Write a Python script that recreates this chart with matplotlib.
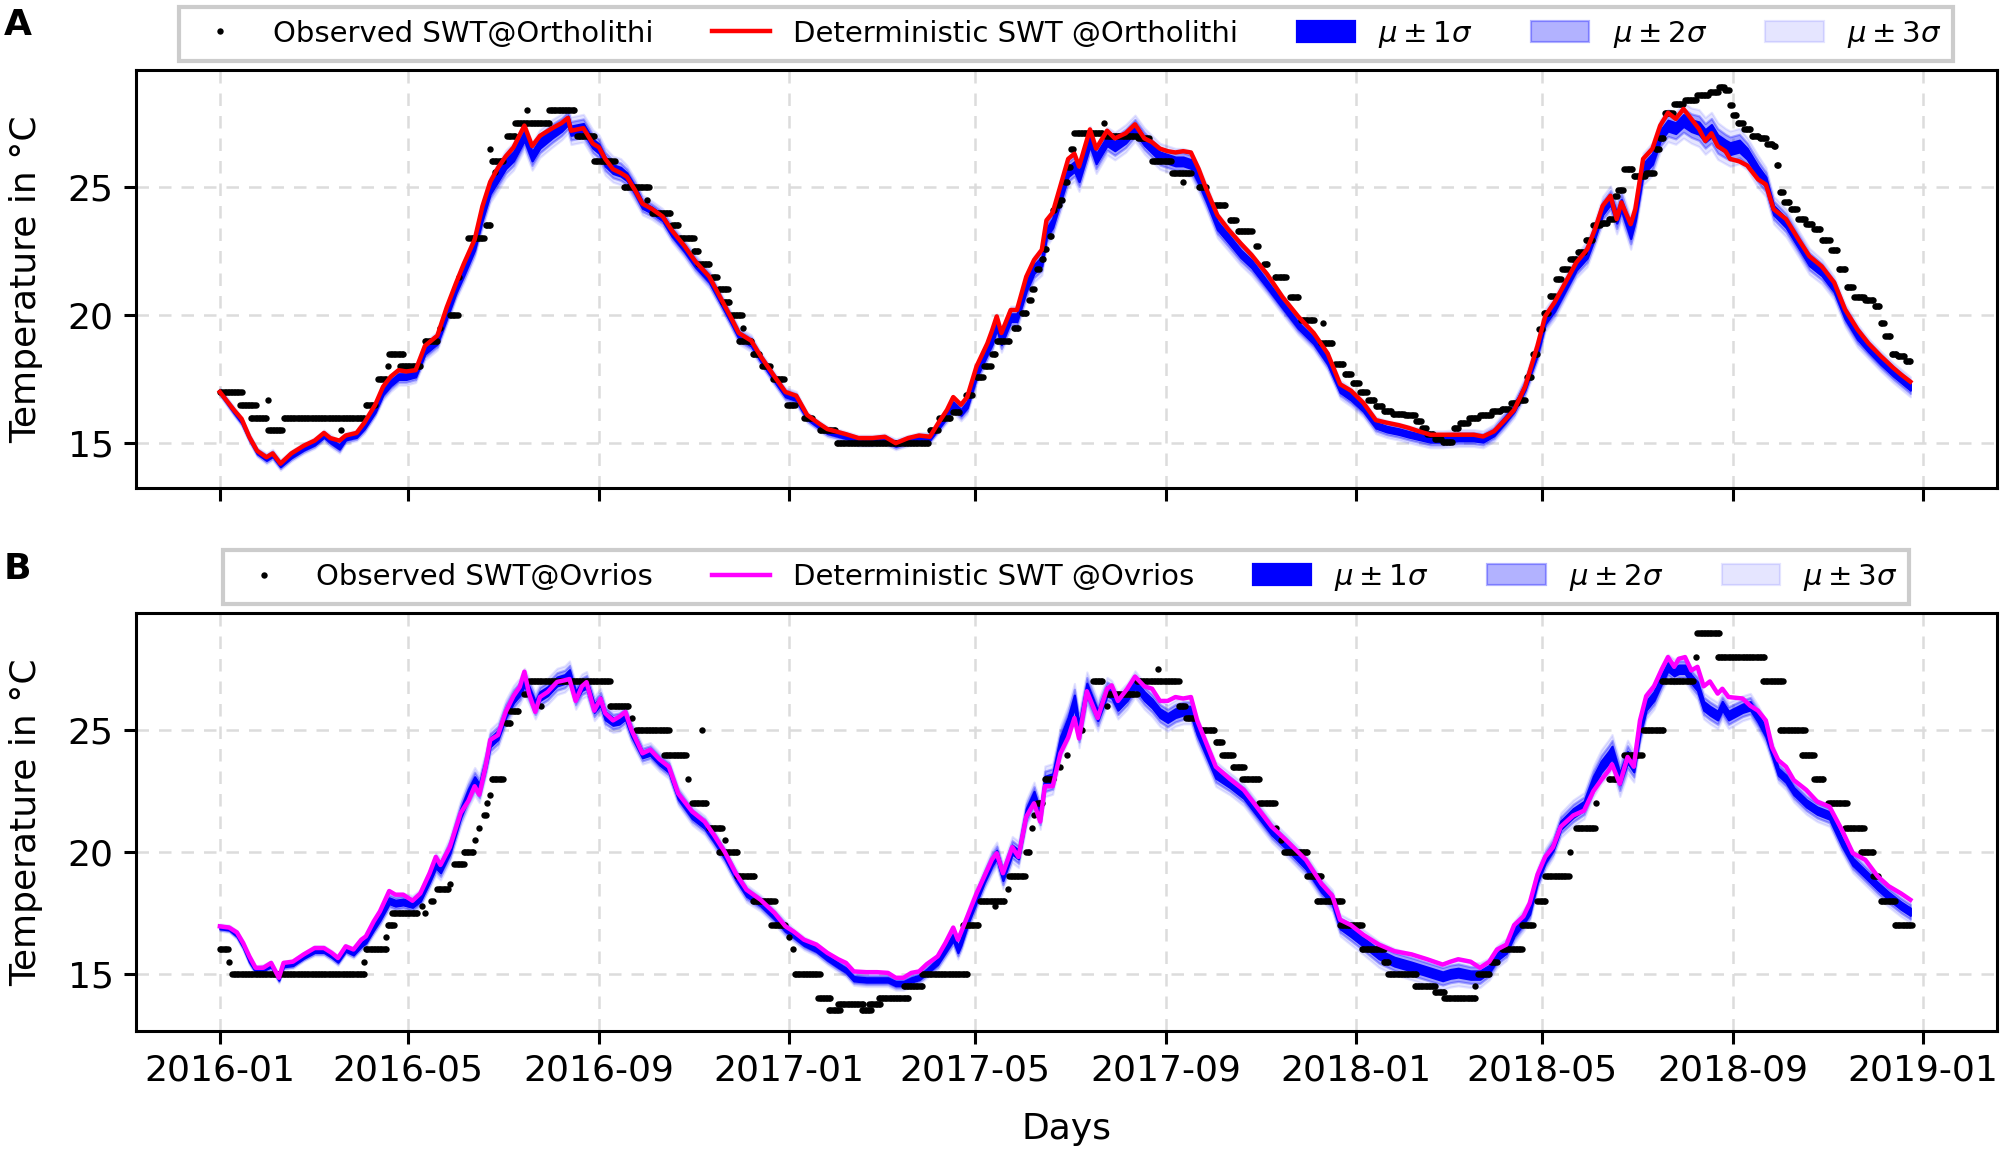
import numpy as np
import matplotlib
matplotlib.use("Agg")
import matplotlib.pyplot as plt
import matplotlib.dates as mdates

# ---------------- data (day offsets from 2016-01-01) ----------------
a_day = [0, 9, 14, 19, 24, 30, 34, 39, 46, 54, 61, 67, 71, 77, 81, 88, 93, 100, 105, 110,
         115, 120, 126, 132, 140, 146, 152, 157, 164, 169, 174, 179, 184, 189, 196, 201, 206, 214, 220, 224,
         226, 234, 240, 244, 248, 253, 258, 262, 267, 272, 278, 285, 291, 299, 306, 315, 322, 329, 334, 342,
         348, 357, 364,
         371, 378, 386, 391, 403, 411, 420, 428, 435, 443, 450, 457, 462, 468, 472, 477, 481, 487, 494, 497,
         500, 503, 509, 513, 519, 524, 529, 532, 536, 541, 546, 550, 553, 560, 564, 571, 576, 583, 589, 595,
         600, 605, 610, 615, 620, 625, 630, 635, 642, 649, 657, 664, 674, 684, 694, 704, 713, 721, 728,
         736, 744, 751, 759, 765, 772, 779, 787, 797, 807, 813, 820, 827, 833, 840, 848, 853, 859, 866, 873,
         880, 885, 890, 895, 899, 902, 908, 911, 916, 922, 927, 932, 937, 942, 947, 952, 956, 960, 964, 969,
         972, 978, 983, 990, 995, 1000, 1008, 1016, 1023, 1031, 1039, 1046, 1054, 1061, 1069, 1077, 1082, 1088]
a_det = [17.0, 16.3, 15.95, 15.24, 14.7, 14.45, 14.6, 14.2, 14.6, 14.9, 15.1, 15.4, 15.2, 15.1, 15.3,
         15.4, 15.8, 16.5, 17.2, 17.6, 17.85, 17.8, 17.85, 18.8, 19.2, 20.3, 21.25, 22.0, 22.95, 24.25,
         25.2, 25.75, 26.2, 26.55, 27.4, 26.6, 27.0, 27.3, 27.5, 27.7, 27.2, 27.3, 26.7, 26.55, 26.1,
         25.7, 25.55, 25.4, 24.9, 24.35, 24.15, 23.85, 23.3, 22.7, 22.1, 21.5, 20.7, 19.9, 19.3, 19.0,
         18.4, 17.6, 17.0,
         16.85, 16.1, 15.75, 15.55, 15.35, 15.2, 15.2, 15.25, 15.0, 15.2, 15.3, 15.25, 15.75, 16.3, 16.8,
         16.5, 16.8, 18.0, 18.9, 19.4, 19.95, 19.3, 20.2, 20.2, 21.5, 22.15, 22.55, 23.7, 24.0, 25.05,
         26.1, 26.3, 25.8, 27.25, 26.5, 27.2, 26.9, 27.1, 27.45, 26.9, 26.75, 26.5, 26.4, 26.35, 26.4,
         26.35, 25.7, 24.9, 23.9, 23.35, 22.8, 22.35, 21.6, 20.7, 19.95, 19.3, 18.5, 17.3, 17.05,
         16.57, 15.9, 15.8, 15.7, 15.6, 15.46, 15.33, 15.33, 15.33, 15.33, 15.26, 15.46, 15.9, 16.3, 17.2,
         18.8, 19.96, 20.5, 21.27, 22.05, 22.57, 23.35, 24.27, 24.66, 23.75, 24.4, 23.55, 24.14, 26.1, 26.5,
         27.4, 27.9, 27.66, 28.05, 27.66, 27.27, 26.8, 27.1, 26.6, 26.4, 26.1, 26.0, 25.84, 25.3, 25.1,
         24.14, 23.75, 22.96, 22.3, 21.9, 21.27, 20.22, 19.44, 18.9, 18.4, 17.94, 17.68, 17.4]
a_mu = [17.0, 16.25, 15.85, 15.2, 14.65, 14.4, 14.55, 14.15, 14.5, 14.8, 15.0, 15.3, 15.1, 14.85, 15.2,
        15.3, 15.65, 16.3, 17.0, 17.35, 17.6, 17.6, 17.7, 18.6, 19.0, 20.0, 21.0, 21.7, 22.7, 23.9,
        24.9, 25.4, 25.9, 26.2, 27.0, 26.2, 26.7, 27.1, 27.35, 27.6, 27.2, 27.3, 26.7, 26.5, 26.0,
        25.7, 25.6, 25.4, 24.9, 24.3, 24.1, 23.8, 23.2, 22.6, 22.0, 21.4, 20.6, 19.8, 19.2, 18.9,
        18.3, 17.5, 16.9,
        16.75, 16.0, 15.65, 15.45, 15.25, 15.1, 15.1, 15.15, 14.95, 15.1, 15.2, 15.2, 15.6, 16.1, 16.5,
        16.2, 16.5, 17.7, 18.6, 19.0, 19.6, 19.0, 19.9, 19.9, 21.1, 21.8, 22.1, 23.2, 23.6, 24.6,
        25.6, 25.8, 25.4, 26.8, 26.1, 26.8, 26.6, 26.9, 27.3, 26.8, 26.5, 26.2, 26.1, 26.0, 26.0,
        25.9, 25.3, 24.6, 23.5, 23.0, 22.4, 22.0, 21.2, 20.4, 19.6, 19.0, 18.2, 17.1, 16.8,
        16.35, 15.7, 15.55, 15.45, 15.35, 15.25, 15.15, 15.15, 15.2, 15.2, 15.15, 15.4, 15.9, 16.35, 17.2,
        18.6, 19.8, 20.3, 21.1, 21.9, 22.4, 23.2, 24.1, 24.5, 23.8, 24.3, 23.2, 23.9, 25.7, 26.1,
        27.0, 27.4, 27.3, 27.6, 27.4, 27.3, 27.0, 27.2, 26.8, 26.6, 26.5, 26.6, 26.3, 25.6, 25.2,
        24.1, 23.6, 22.8, 22.1, 21.7, 21.05, 20.0, 19.2, 18.7, 18.2, 17.75, 17.5, 17.2]
a_sd = [0.05, 0.06, 0.06, 0.06, 0.06, 0.07, 0.07, 0.07, 0.07, 0.07, 0.07, 0.07, 0.08, 0.08, 0.07,
        0.07, 0.09, 0.09, 0.11, 0.11, 0.11, 0.11, 0.11, 0.12, 0.12, 0.13, 0.13, 0.15, 0.15, 0.17,
        0.17, 0.18, 0.18, 0.18, 0.18, 0.18, 0.18, 0.18, 0.17, 0.17, 0.18, 0.18, 0.18, 0.18, 0.18,
        0.17, 0.17, 0.15, 0.15, 0.13, 0.12, 0.12, 0.12, 0.12, 0.12, 0.12, 0.11, 0.11, 0.11, 0.11,
        0.09, 0.09, 0.09,
        0.09, 0.07, 0.07, 0.07, 0.07, 0.07, 0.07, 0.07, 0.07, 0.07, 0.07, 0.07, 0.08, 0.1, 0.11,
        0.11, 0.12, 0.13, 0.13, 0.15, 0.15, 0.15, 0.15, 0.15, 0.17, 0.17, 0.18, 0.18, 0.18, 0.19,
        0.19, 0.19, 0.19, 0.19, 0.19, 0.18, 0.18, 0.18, 0.17, 0.17, 0.17, 0.17, 0.17, 0.17, 0.17,
        0.17, 0.17, 0.17, 0.16, 0.16, 0.15, 0.15, 0.13, 0.13, 0.12, 0.12, 0.12, 0.12, 0.12,
        0.11, 0.11, 0.11, 0.11, 0.11, 0.11, 0.11, 0.11, 0.11, 0.11, 0.11, 0.11, 0.12, 0.12, 0.13,
        0.15, 0.15, 0.15, 0.15, 0.15, 0.17, 0.17, 0.18, 0.18, 0.21, 0.21, 0.21, 0.21, 0.21, 0.21,
        0.21, 0.21, 0.21, 0.23, 0.23, 0.24, 0.24, 0.24, 0.24, 0.23, 0.23, 0.23, 0.21, 0.21, 0.19,
        0.18, 0.18, 0.17, 0.17, 0.16, 0.15, 0.15, 0.15, 0.13, 0.13, 0.13, 0.13, 0.13]

# observed runs at Ortholithi: (first day, last day, value)
a_obs_runs = [
    (0, 14, 17.0), (13, 23, 16.5), (20, 30, 16.0), (31, 31, 16.7), (31, 40, 15.5), (41, 93, 16.0),
    (78, 78, 15.5), (94, 100, 16.5), (102, 107, 17.5), (108, 108, 18.0), (109, 118, 18.5),
    (116, 129, 18.0), (132, 140, 19.0), (142, 142, 19.5), (148, 153, 20.0), (154, 154, 21.5),
    (160, 170, 23.0), (171, 174, 23.5), (174, 174, 26.5), (177, 177, 25.6), (175, 182, 26.0),
    (185, 190, 27.0), (190, 212, 27.5), (198, 198, 28.0), (212, 228, 28.0), (230, 241, 27.0),
    (241, 254, 26.0), (260, 276, 25.0), (275, 275, 24.5), (278, 290, 24.0), (291, 295, 23.5),
    (296, 305, 23.0), (305, 308, 22.5), (308, 315, 22.0), (317, 320, 21.5), (321, 327, 21.0),
    (324, 328, 20.5), (329, 336, 20.0), (337, 337, 19.5), (334, 342, 19.0), (343, 347, 18.5),
    (349, 354, 18.0), (356, 363, 17.5), (365, 370, 16.5),
    (376, 381, 16.0), (386, 396, 15.5), (397, 456, 15.0), (457, 462, 15.5), (463, 470, 16.0),
    (472, 476, 16.2), (480, 484, 16.9), (487, 491, 17.6), (492, 496, 18.0), (497, 499, 18.5),
    (500, 508, 19.0), (511, 514, 19.5), (516, 519, 20.1), (521, 522, 20.6), (523, 524, 21.0),
    (526, 527, 21.8), (529, 530, 22.2), (531, 532, 22.6), (534, 535, 23.1), (536, 537, 24.1),
    (539, 540, 24.3), (541, 542, 24.5), (544, 545, 25.2), (546, 547, 25.8), (548, 549, 26.5),
    (550, 568, 27.1), (569, 569, 27.5), (570, 590, 27.0), (591, 598, 26.9), (600, 612, 26.0),
    (613, 625, 25.55), (620, 620, 25.2), (630, 635, 25.0), (640, 647, 24.3), (650, 654, 23.7),
    (655, 664, 23.3), (667, 668, 22.7), (672, 674, 22.0), (679, 686, 21.5), (689, 694, 20.7),
    (696, 704, 19.8), (710, 710, 19.7), (709, 716, 18.9), (718, 723, 18.1),
    (724, 728, 17.7), (729, 733, 17.35), (734, 738, 17.0), (739, 743, 16.7), (744, 748, 16.45),
    (749, 754, 16.25), (755, 762, 16.15), (763, 769, 16.1), (770, 773, 15.85), (774, 776, 15.6),
    (777, 781, 15.35), (782, 786, 15.15), (787, 793, 15.05), (794, 797, 15.6), (798, 803, 15.8),
    (804, 810, 16.0), (811, 818, 16.1), (819, 824, 16.25), (825, 830, 16.35), (831, 835, 16.55),
    (836, 840, 16.7), (841, 844, 17.6), (845, 848, 18.5), (849, 851, 19.45), (852, 855, 20.1),
    (856, 859, 20.75), (860, 863, 21.4), (864, 868, 21.8), (869, 873, 22.2), (874, 878, 22.45),
    (879, 883, 22.95), (884, 888, 23.5), (889, 893, 23.6), (894, 897, 23.75), (898, 899, 24.65),
    (900, 903, 24.9), (904, 909, 25.7), (910, 917, 25.45), (918, 923, 25.55), (924, 926, 26.5),
    (927, 929, 26.9), (930, 935, 27.9), (936, 942, 28.25), (943, 950, 28.4), (951, 958, 28.6),
    (959, 964, 28.7), (965, 968, 28.9), (969, 971, 28.8), (972, 973, 28.2), (974, 976, 27.8),
    (977, 980, 27.5), (981, 985, 27.25), (986, 990, 27.0), (991, 995, 26.9), (996, 999, 26.7),
    (1000, 1001, 26.6), (1002, 1003, 25.85), (1004, 1006, 24.8), (1007, 1010, 24.4),
    (1011, 1015, 24.15), (1016, 1020, 23.75), (1021, 1025, 23.55), (1026, 1030, 23.35),
    (1031, 1036, 22.95), (1037, 1041, 22.55), (1042, 1046, 21.8), (1047, 1051, 21.1),
    (1052, 1058, 20.7), (1059, 1064, 20.6), (1065, 1068, 20.35), (1069, 1071, 19.7),
    (1072, 1075, 19.2), (1076, 1079, 18.5), (1080, 1084, 18.4), (1085, 1088, 18.2)]

b_day = [0, 6, 11, 15, 19, 23, 28, 33, 38, 41, 47, 54, 61, 67, 72, 76, 81, 86, 91, 94,
         99, 103, 109, 113, 118, 124, 129, 135, 139, 142, 148, 155, 160, 164, 167, 171, 174, 179, 184, 189,
         193, 196, 199, 203, 206, 211, 217, 222, 225, 229, 233, 236, 241, 245, 248, 253, 257, 261, 265, 272,
         277, 283, 289, 295, 304, 312, 318, 325, 332, 339, 348, 357, 364,
         369, 376, 384, 391, 398, 403, 408, 416, 423, 430, 435, 440, 445, 450, 455, 462, 467, 472, 475, 477,
         482, 487, 492, 497, 500, 504, 510, 514, 519, 524, 528, 531, 536, 541, 546, 550, 553, 558, 565, 571,
         574, 578, 584, 589, 595, 600, 605, 610, 615, 620, 625, 629, 635, 641, 650, 659, 668, 677, 686, 699,
         709, 716, 721, 728,
         736, 746, 756, 767, 777, 787, 792, 797, 805, 811, 817, 822, 828, 833, 839, 843, 848, 853, 858, 863,
         871, 878, 884, 889, 894, 896, 901, 906, 910, 914, 918, 923, 928, 932, 936, 939, 943, 947, 951, 955,
         959, 964, 967, 971, 980, 985, 990, 995, 999, 1003, 1008, 1013, 1021, 1028, 1036, 1044, 1051, 1059,
         1067, 1074, 1082, 1088]
b_det = [16.95, 16.9, 16.7, 16.27, 15.72, 15.25, 15.25, 15.45, 14.84, 15.45, 15.5, 15.8, 16.06, 16.06, 15.86,
         15.65, 16.13, 16.0, 16.4, 16.54, 17.15, 17.56, 18.4, 18.25, 18.25, 18.0, 18.3, 19.13, 19.8, 19.47,
         20.2, 21.6, 22.1, 22.7, 22.35, 23.5, 24.6, 24.8, 25.75, 26.4, 26.77, 27.4, 26.5, 25.75, 26.36,
         26.57, 26.98, 27.05, 27.1, 26.2, 26.8, 26.97, 25.8, 26.3, 25.7, 25.4, 25.55, 25.75, 25.0, 24.05,
         24.2, 23.8, 23.5, 22.4, 21.66, 21.25, 20.7, 20.0, 19.13, 18.45, 18.04, 17.5, 16.95,
         16.75, 16.4, 16.2, 15.86, 15.6, 15.45, 15.1, 15.07, 15.07, 15.04, 14.84, 14.84, 15.04, 15.1, 15.4,
         15.72, 16.27, 16.9, 16.4, 16.7, 17.5, 18.3, 19.0, 19.7, 19.95, 19.13, 20.2, 19.8, 21.45, 22.0,
         21.25, 22.7, 22.7, 24.05, 24.7, 25.5, 24.66, 26.6, 25.5, 26.7, 26.84, 26.2, 26.7, 27.2, 26.8,
         26.7, 26.2, 26.2, 26.36, 26.3, 26.36, 25.4, 24.45, 23.5, 23.0, 22.55, 21.8, 21.04, 20.5, 19.68,
         18.7, 18.2, 17.22, 17.0,
         16.6, 16.2, 15.93, 15.8, 15.6, 15.38, 15.5, 15.6, 15.5, 15.25, 15.5, 16.0, 16.2, 17.0, 17.36,
         17.9, 19.07, 19.8, 20.2, 21.04, 21.5, 21.7, 22.5, 22.95, 23.36, 23.6, 22.8, 23.9, 23.5, 25.4,
         26.4, 26.8, 27.5, 28.0, 27.6, 27.93, 28.0, 27.45, 27.6, 26.8, 27.0, 26.5, 26.7, 26.36, 26.3,
         26.0, 25.8, 25.4, 24.3, 23.77, 23.5, 22.95, 22.55, 22.07, 21.86, 20.9, 19.95, 19.68, 19.0, 18.6,
         18.3, 18.04]
b_mu = [16.9, 16.85, 16.6, 16.15, 15.55, 15.15, 15.2, 15.35, 14.8, 15.35, 15.4, 15.7, 15.95, 15.95, 15.75,
        15.55, 16.0, 15.85, 16.2, 16.35, 16.9, 17.3, 18.0, 17.9, 17.95, 17.85, 18.1, 18.9, 19.5, 19.3,
        20.1, 21.6, 22.4, 22.9, 22.6, 23.6, 24.5, 24.8, 25.7, 26.3, 26.6, 27.0, 26.6, 26.0, 26.4,
        26.6, 27.0, 27.1, 27.3, 26.4, 26.8, 26.9, 25.9, 26.2, 25.6, 25.35, 25.4, 25.6, 24.9, 24.0,
        24.1, 23.7, 23.4, 22.3, 21.5, 21.1, 20.55, 19.85, 19.0, 18.3, 17.9, 17.35, 16.85,
        16.6, 16.25, 16.0, 15.65, 15.35, 15.15, 14.8, 14.75, 14.75, 14.75, 14.6, 14.6, 14.75, 14.85, 15.1,
        15.5, 16.0, 16.5, 16.0, 16.3, 17.3, 18.1, 18.9, 19.6, 19.9, 19.0, 20.1, 19.9, 21.6, 22.3,
        21.5, 22.9, 23.0, 24.5, 25.3, 26.2, 25.0, 26.7, 25.6, 26.6, 26.5, 26.0, 26.4, 26.9, 26.4,
        26.1, 25.7, 25.5, 25.7, 25.8, 25.8, 25.0, 24.1, 23.2, 22.8, 22.35, 21.6, 20.85, 20.3, 19.45,
        18.5, 18.0, 17.0, 16.7,
        16.3, 15.8, 15.5, 15.3, 15.1, 14.9, 15.0, 15.05, 14.95, 14.95, 15.2, 15.7, 16.0, 16.7, 17.2,
        17.6, 18.9, 19.7, 20.2, 21.1, 21.6, 21.9, 22.9, 23.5, 23.9, 24.1, 23.0, 23.9, 23.5, 25.0,
        26.0, 26.4, 27.1, 27.6, 27.4, 27.5, 27.5, 27.1, 26.8, 26.0, 25.8, 25.6, 26.0, 25.6, 25.9,
        26.0, 25.5, 24.9, 24.1, 23.3, 23.0, 22.5, 22.0, 21.7, 21.5, 20.4, 19.6, 19.1, 18.6, 18.2,
        17.8, 17.55]
b_sd = [0.05, 0.05, 0.06, 0.06, 0.06, 0.06, 0.06, 0.06, 0.06, 0.06, 0.06, 0.06, 0.07, 0.07, 0.07,
        0.07, 0.07, 0.07, 0.08, 0.08, 0.1, 0.11, 0.12, 0.12, 0.12, 0.12, 0.12, 0.13, 0.15, 0.15,
        0.17, 0.18, 0.19, 0.19, 0.19, 0.18, 0.18, 0.18, 0.18, 0.18, 0.18, 0.18, 0.18, 0.18, 0.18,
        0.18, 0.18, 0.18, 0.18, 0.18, 0.17, 0.17, 0.17, 0.17, 0.17, 0.15, 0.15, 0.15, 0.15, 0.13,
        0.13, 0.13, 0.13, 0.13, 0.13, 0.13, 0.13, 0.12, 0.12, 0.12, 0.11, 0.11, 0.11,
        0.09, 0.09, 0.09, 0.09, 0.09, 0.09, 0.09, 0.09, 0.09, 0.09, 0.09, 0.09, 0.09, 0.09, 0.09,
        0.11, 0.12, 0.13, 0.13, 0.13, 0.15, 0.15, 0.15, 0.17, 0.17, 0.17, 0.18, 0.18, 0.18, 0.19,
        0.19, 0.21, 0.21, 0.23, 0.24, 0.24, 0.24, 0.23, 0.21, 0.19, 0.18, 0.18, 0.18, 0.18, 0.18,
        0.18, 0.18, 0.18, 0.18, 0.18, 0.18, 0.18, 0.17, 0.17, 0.15, 0.15, 0.15, 0.15, 0.15, 0.15,
        0.15, 0.15, 0.15, 0.17,
        0.17, 0.18, 0.18, 0.18, 0.18, 0.18, 0.18, 0.18, 0.17, 0.17, 0.15, 0.15, 0.15, 0.15, 0.15,
        0.15, 0.15, 0.15, 0.15, 0.17, 0.18, 0.18, 0.21, 0.23, 0.24, 0.24, 0.24, 0.23, 0.21, 0.19,
        0.18, 0.18, 0.17, 0.17, 0.17, 0.17, 0.17, 0.17, 0.18, 0.18, 0.18, 0.18, 0.18, 0.18, 0.17,
        0.17, 0.17, 0.17, 0.15, 0.15, 0.15, 0.15, 0.15, 0.15, 0.15, 0.15, 0.15, 0.15, 0.15, 0.15,
        0.15, 0.15]

# observed runs at Ovrios: (first day, last day, value)
b_obs_runs = [
    (0, 5, 16.0), (6, 6, 15.5), (8, 93, 15.0), (93, 93, 15.5), (94, 107, 16.0), (107, 107, 16.5),
    (108, 112, 17.0), (111, 127, 17.5), (130, 130, 17.8), (132, 132, 17.5), (136, 137, 18.0),
    (140, 147, 18.5), (148, 148, 18.7), (151, 157, 19.5), (157, 163, 20.0), (164, 164, 20.5),
    (167, 167, 21.0), (170, 171, 21.5), (172, 172, 22.0), (174, 174, 22.35), (175, 182, 23.0),
    (184, 187, 25.3), (187, 192, 25.8), (196, 197, 26.5), (199, 251, 27.0), (207, 207, 26.0),
    (251, 263, 26.0), (265, 265, 25.5), (268, 289, 25.0), (310, 310, 25.0), (286, 300, 24.0),
    (301, 301, 23.0), (304, 313, 22.0), (315, 323, 21.0), (325, 325, 20.5), (321, 333, 20.0),
    (333, 344, 19.0), (343, 357, 18.0), (355, 364, 17.0), (366, 366, 16.5), (369, 369, 16.0),
    (370, 386, 15.0), (385, 393, 14.0), (392, 399, 13.5), (398, 414, 13.75), (413, 419, 13.5),
    (418, 425, 13.75), (424, 443, 14.0), (440, 452, 14.5), (452, 481, 15.0), (478, 488, 17.0),
    (489, 505, 18.0), (499, 499, 17.8), (507, 507, 18.5), (508, 518, 19.0), (519, 521, 20.0),
    (523, 523, 21.0), (524, 524, 21.5), (526, 529, 22.0), (531, 536, 23.0), (541, 541, 23.5),
    (545, 545, 24.0), (555, 555, 25.0), (562, 568, 27.0), (571, 571, 26.0), (571, 590, 26.5),
    (590, 617, 27.0), (604, 604, 27.5), (617, 621, 26.0), (622, 627, 25.5), (632, 640, 25.0),
    (641, 645, 24.5), (645, 652, 24.0), (652, 659, 23.5), (658, 669, 23.0), (669, 679, 22.0),
    (680, 680, 21.0), (683, 683, 20.5), (685, 700, 20.0), (700, 709, 19.0), (706, 722, 18.0),
    (721, 735, 17.0), (735, 749, 16.0), (749, 752, 15.5), (752, 770, 15.0), (769, 782, 14.5),
    (782, 788, 14.25), (788, 808, 14.0), (808, 808, 14.5), (810, 817, 15.0), (818, 822, 15.5),
    (825, 838, 16.0), (838, 845, 17.0), (848, 853, 18.0), (853, 868, 19.0), (869, 869, 20.0),
    (873, 885, 21.0), (886, 886, 22.0), (894, 899, 23.0), (904, 915, 24.0), (916, 929, 25.0),
    (928, 948, 27.0), (950, 950, 28.0), (951, 965, 29.0), (964, 994, 28.0), (993, 1006, 27.0),
    (1004, 1020, 25.0), (1018, 1026, 24.0), (1026, 1032, 23.0), (1035, 1047, 22.0),
    (1046, 1058, 21.0), (1056, 1064, 20.0), (1064, 1067, 19.0), (1069, 1078, 18.0),
    (1078, 1089, 17.0)]

a_labels = ["Observed SWT@Ortholithi", "Deterministic SWT @Ortholithi"]
b_labels = ["Observed SWT@Ovrios", "Deterministic SWT @Ovrios"]
band_labels = [r"$\mu \pm 1\sigma$", r"$\mu \pm 2\sigma$", r"$\mu \pm 3\sigma$"]
y_ticks = [15, 20, 25]

# ---------------- plotting ----------------
BASE = np.datetime64("2016-01-01")


def to_dates(days):
    return BASE + np.asarray(days).astype("timedelta64[D]")


def expand_runs(runs):
    d = np.concatenate([np.arange(s, e + 1) for s, e, v in runs])
    v = np.concatenate([np.full(e - s + 1, v) for s, e, v in runs])
    return d, v


plt.rcParams["font.family"] = ["DejaVu Sans"]
plt.rcParams["axes.linewidth"] = 1.1

fig = plt.figure(figsize=(10.025, 5.785), dpi=200)
ax1 = fig.add_axes([0.0678, 0.578, 0.928, 0.3615])
ax2 = fig.add_axes([0.0678, 0.109, 0.928, 0.361])


def draw(ax, day, det, mu, sd, runs, det_color, labels, ylim):
    t = to_dates(day)
    mu = np.asarray(mu)
    sd = np.asarray(sd)
    f3 = ax.fill_between(t, mu - 3 * sd, mu + 3 * sd, color="blue", alpha=0.1, lw=0.8, zorder=1)
    f2 = ax.fill_between(t, mu - 2 * sd, mu + 2 * sd, color="blue", alpha=0.3, lw=0.8, zorder=1.1)
    f1 = ax.fill_between(t, mu - sd, mu + sd, color="blue", alpha=1.0, lw=0.8, zorder=1.2)
    od, ov = expand_runs(runs)
    obs, = ax.plot(to_dates(od), ov, ls="", marker="o", ms=2.3, mew=0, color="black", zorder=2)
    ln, = ax.plot(t, det, color=det_color, lw=1.6, zorder=3)
    leg = ax.legend([obs, ln, f1, f2, f3], labels + band_labels, loc="lower center",
                    bbox_to_anchor=(0.5, 1.0), ncol=5, fontsize=10.5, fancybox=False,
                    edgecolor="#cccccc", borderaxespad=0.3, framealpha=1.0)
    leg.get_frame().set_linewidth(1.5)
    ax.set_xlim(BASE - np.timedelta64(54, "D"), BASE + np.timedelta64(1143, "D") + np.timedelta64(12, "h"))
    ax.set_ylim(*ylim)
    ax.set_yticks(y_ticks)
    ax.xaxis.set_major_locator(mdates.MonthLocator(bymonth=[1, 5, 9]))
    ax.xaxis.set_major_formatter(mdates.DateFormatter("%Y-%m"))
    ax.grid(True, linestyle=(0, (5, 4)), color="#dcdcdc", linewidth=0.9)
    ax.set_axisbelow(True)
    ax.tick_params(labelsize=13, width=1.1, length=4.5)
    ax.set_ylabel("Temperature in °C", fontsize=13, labelpad=9)


draw(ax1, a_day, a_det, a_mu, a_sd, a_obs_runs, "red", a_labels, (13.24, 29.57))
draw(ax2, b_day, b_det, b_mu, b_sd, b_obs_runs, "magenta", b_labels, (12.66, 29.8))
ax1.tick_params(labelbottom=False)
ax2.set_xlabel("Days", fontsize=13, labelpad=9)

fig.text(0.002, 0.993, "A", fontsize=13, fontweight="bold", va="top", ha="left")
fig.text(0.002, 0.523, "B", fontsize=13, fontweight="bold", va="top", ha="left")

fig.savefig("out.png", dpi=200)
